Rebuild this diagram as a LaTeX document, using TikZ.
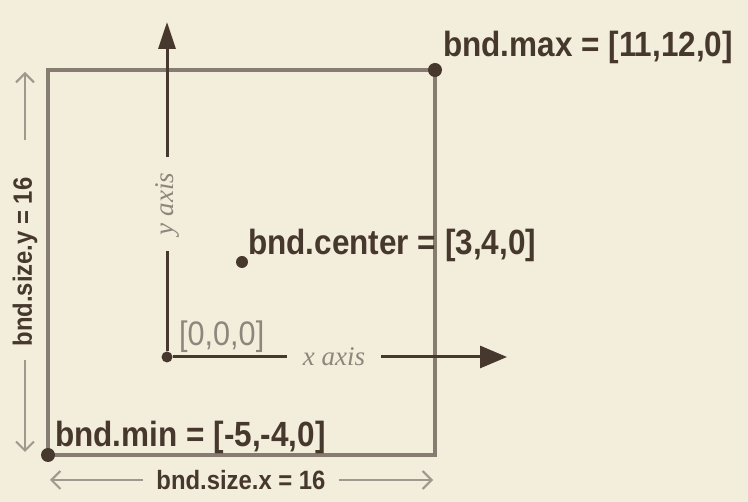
\documentclass[tikz,border=0pt]{standalone}
\usepackage{fontspec}
\setmainfont{Liberation Sans}
\newfontfamily\labelfont[FakeStretch=0.9]{Liberation Sans}
\newfontfamily\axisfont{Liberation Serif}
\usetikzlibrary{arrows.meta}

\definecolor{paper}{HTML}{F3EDDC}
\definecolor{ink}{HTML}{47382E}
\definecolor{frame}{HTML}{877C72}
\definecolor{faint}{HTML}{8E867D}
\definecolor{dimline}{HTML}{A0978D}

\tikzset{
  dot/.style={circle, fill=ink, inner sep=0pt, minimum size=#1},
  bndlabel/.style={font=\labelfont\fontsize{35}{40}\selectfont\bfseries, text=ink, anchor=west, inner sep=0pt},
  originlabel/.style={font=\labelfont\fontsize{34}{40}\selectfont, text=faint, anchor=west, inner sep=0pt},
  axislabel/.style={font=\axisfont\itshape\fontsize{27}{30}\selectfont, text=faint, inner xsep=16pt, inner ysep=2pt},
  sizelabel/.style={font=\labelfont\fontsize{26.5}{30}\selectfont\bfseries, text=ink, inner xsep=13pt, inner ysep=0pt},
  dimarrow/.style={draw=dimline, line width=2pt, -{Straight Barb[length=9pt,width=18pt]}},
  axis/.style={draw=ink, line width=3pt},
}

\begin{document}
\begin{tikzpicture}[x=1pt, y=-1pt]
  \fill[paper] (0,0) rectangle (748,502);
  \useasboundingbox (0,0) rectangle (748,502);
  % bounds box
  \coordinate (min) at (48,455);
  \coordinate (max) at (435,70);
  \draw[frame, line width=4.5pt] (min) rectangle (max);
  \node[dot=14pt] (mindot) at (min) {};
  \node[dot=14pt] (maxdot) at (max) {};
  \node[dot=12pt] (centerdot) at (242,262) {};
  % axes
  \node[dot=11pt] (origin) at (167,357) {};
  \coordinate (xtip) at (507,357);
  \coordinate (ytip) at (167,22);
  \node[axislabel] (xlab) at (334,357) {x axis};
  \node[axislabel, rotate=90] (ylab) at (167,204) {y axis};
  \draw[axis] (origin) -- (xlab);
  \draw[axis, -{Triangle[length=27pt,width=22pt]}] (xlab) -- (xtip);
  \draw[axis] (origin) -- (ylab);
  \draw[axis, -{Triangle[length=27pt,width=17pt]}] (ylab) -- (ytip);
  % labels
  \node[bndlabel] (maxlab) at (443,47) {bnd.max = [11,12,0]};
  \node[bndlabel] (centerlab) at (248,245) {bnd.center = [3,4,0]};
  \node[bndlabel] (minlab) at (55,437) {bnd.min = [-5,-4,0]};
  \node[originlabel] (originlab) at (179,337) {[0,0,0]};
  % sizes
  \node[sizelabel] (sizex) at (241,480) {bnd.size.x = 16};
  \coordinate (sxl) at (50,480);
  \coordinate (sxr) at (433,480);
  \draw[dimarrow] (sizex) -- (sxl);
  \draw[dimarrow] (sizex) -- (sxr);
  \node[sizelabel, rotate=90] (sizey) at (25,262) {bnd.size.y = 16};
  \coordinate (syt) at (25,72);
  \coordinate (syb) at (25,452);
  \draw[dimarrow, shorten <=24pt] (sizey) -- (syt);
  \draw[dimarrow] (sizey) -- (syb);
\end{tikzpicture}
\end{document}
